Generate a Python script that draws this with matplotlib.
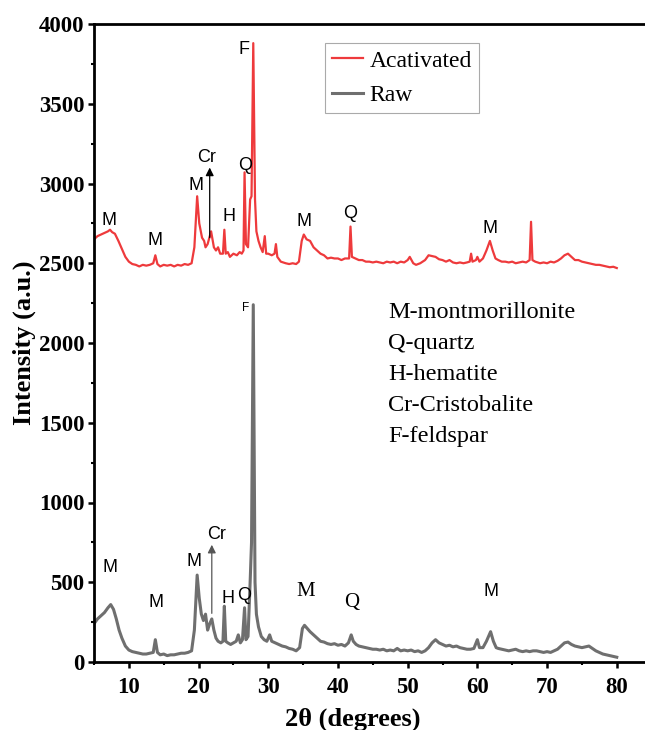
import matplotlib
matplotlib.use("Agg")
import matplotlib.pyplot as plt
from matplotlib.ticker import MultipleLocator

# ---------------- data ----------------
activated_2theta = [
    5.0, 5.5, 6.0, 6.5, 7.0, 7.3, 7.6, 8.0, 8.5, 9.0, 9.5, 10.0, 10.5, 11.0, 11.5, 12.0,
    12.5, 13.0, 13.5, 13.8, 14.1, 14.5, 15.0, 15.5, 16.0, 16.5, 17.0, 17.5, 18.0, 18.5,
    19.0, 19.4, 19.8, 20.1, 20.5, 20.8, 21.0, 21.3, 21.8, 22.2, 22.5, 22.8, 23.1, 23.5,
    23.7, 23.9, 24.2, 24.5, 25.0, 25.5, 25.9, 26.2, 26.45, 26.6, 26.8, 27.1, 27.4, 27.6,
    27.85, 28.1, 28.3, 28.6, 28.9, 29.2, 29.5, 29.7, 30.0, 30.5, 30.9, 31.1, 31.3, 31.8,
    32.5, 33.0, 33.5, 34.0, 34.4, 34.8, 35.1, 35.5, 36.0, 36.5, 37.0, 37.5, 38.0, 38.5,
    39.0, 39.5, 40.0, 40.5, 41.0, 41.6, 41.8, 42.0, 42.5, 43.0, 43.5, 44.0, 44.5, 45.0,
    45.5, 46.0, 46.5, 47.0, 47.5, 48.0, 48.5, 49.0, 49.5, 50.0, 50.3, 50.8, 51.2, 51.8,
    52.5, 53.0, 53.5, 54.0, 54.5, 55.0, 55.5, 56.0, 56.5, 57.0, 57.5, 58.0, 58.5, 58.9,
    59.1, 59.3, 59.8, 60.0, 60.3, 60.8, 61.3, 61.8, 62.2, 62.6, 63.0, 63.5, 64.0, 64.5,
    65.0, 65.5, 66.0, 66.5, 67.0, 67.5, 67.7, 67.9, 68.3, 69.0, 69.5, 70.0, 70.5, 71.0,
    71.5, 72.0, 72.5, 73.0, 73.5, 74.0, 74.5, 75.0, 75.5, 76.0, 76.5, 77.0, 77.5, 78.0,
    78.5, 79.0, 79.5, 80.0]
activated_intensity = [
    2650, 2670, 2680, 2690, 2700, 2710, 2695, 2685, 2640, 2590, 2540, 2510, 2495, 2490, 2480, 2490,
    2485, 2490, 2500, 2550, 2495, 2480, 2490, 2485, 2490, 2480, 2490, 2485, 2495, 2490,
    2500, 2600, 2920, 2750, 2660, 2640, 2600, 2620, 2700, 2600, 2580, 2600, 2560, 2560,
    2710, 2560, 2570, 2540, 2560, 2550, 2570, 2560, 2580, 3070, 2620, 2600, 2900, 2920,
    3880, 2900, 2700, 2640, 2600, 2570, 2670, 2560, 2560, 2550, 2560, 2620, 2540, 2510,
    2500, 2495, 2500, 2495, 2510, 2640, 2680, 2650, 2640, 2600, 2580, 2560, 2550, 2530,
    2535, 2530, 2530, 2520, 2530, 2530, 2730, 2540, 2530, 2520, 2520, 2510, 2510, 2505,
    2510, 2505, 2500, 2510, 2505, 2510, 2500, 2510, 2505, 2520, 2540, 2500, 2490, 2500,
    2520, 2550, 2545, 2540, 2525, 2520, 2510, 2520, 2505, 2500, 2505, 2500, 2505, 2510,
    2560, 2510, 2520, 2540, 2510, 2530, 2580, 2640, 2580, 2530, 2520, 2510, 2510, 2505,
    2510, 2500, 2505, 2510, 2505, 2520, 2760, 2520, 2510, 2500, 2505, 2500, 2510, 2505,
    2515, 2530, 2550, 2560, 2540, 2520, 2520, 2510, 2505, 2500, 2495, 2490, 2490, 2485,
    2480, 2475, 2478, 2470]

raw_2theta = [
    5.0, 5.5, 6.0, 6.5, 7.0, 7.4, 7.8, 8.2, 8.6, 9.0, 9.5, 10.0, 10.5, 11.0, 11.5, 12.0,
    12.5, 13.0, 13.5, 13.8, 14.1, 14.5, 15.0, 15.5, 16.0, 16.5, 17.0, 17.5, 18.0, 18.5,
    19.0, 19.4, 19.8, 20.1, 20.4, 20.7, 21.0, 21.3, 21.6, 21.9, 22.2, 22.5, 22.8, 23.2,
    23.5, 23.7, 23.9, 24.2, 24.6, 25.0, 25.4, 25.7, 26.0, 26.3, 26.6, 26.8, 27.1, 27.4,
    27.6, 27.85, 28.1, 28.3, 28.6, 29.0, 29.4, 29.8, 30.2, 30.5, 31.0, 31.5, 32.0, 32.5,
    33.0, 33.5, 34.0, 34.5, 34.9, 35.2, 35.6, 36.0, 36.5, 37.0, 37.5, 38.0, 38.5, 39.0,
    39.5, 40.0, 40.5, 41.0, 41.5, 41.9, 42.2, 42.6, 43.0, 43.5, 44.0, 44.5, 45.0, 45.5,
    46.0, 46.5, 47.0, 47.5, 48.0, 48.5, 49.0, 49.5, 50.0, 50.5, 51.0, 51.5, 52.0, 52.5,
    53.0, 53.5, 54.0, 54.5, 55.0, 55.5, 56.0, 56.5, 57.0, 57.5, 58.0, 58.5, 59.0, 59.5,
    60.0, 60.3, 60.8, 61.3, 61.9, 62.3, 62.7, 63.0, 63.5, 64.0, 64.5, 65.0, 65.5, 66.0,
    66.5, 67.0, 67.5, 68.0, 68.5, 69.0, 69.5, 70.0, 70.5, 71.0, 71.5, 72.0, 72.5, 73.0,
    73.5, 74.0, 74.5, 75.0, 75.5, 76.0, 76.5, 77.0, 77.5, 78.0, 78.5, 79.0, 79.5, 80.0]
raw_intensity = [
    240, 270, 290, 310, 340, 360, 330, 270, 200, 150, 100, 75, 65, 60, 55, 50,
    50, 55, 60, 140, 60, 45, 50, 40, 45, 45, 50, 55, 55, 60,
    70, 200, 545, 400, 300, 260, 300, 200, 240, 270, 200, 150, 130, 120,
    130, 350, 130, 120, 110, 120, 130, 170, 120, 140, 340, 140, 160, 500,
    750, 2240, 500, 300, 220, 160, 140, 130, 170, 130, 120, 110, 100, 95,
    85, 80, 70, 90, 210, 230, 210, 190, 170, 150, 130, 125, 115, 110,
    115, 105, 110, 100, 120, 170, 130, 110, 100, 95, 90, 85, 80, 80,
    75, 80, 70, 75, 70, 85, 70, 75, 70, 75, 65, 70, 60, 70,
    90, 120, 140, 120, 110, 100, 105, 95, 100, 90, 85, 80, 80, 85,
    140, 90, 90, 130, 190, 130, 90, 85, 80, 75, 70, 75, 80, 70,
    65, 70, 65, 70, 70, 65, 60, 65, 60, 70, 80, 100, 120, 125,
    110, 100, 95, 90, 95, 100, 85, 70, 60, 50, 45, 40, 35, 30]

series_labels = ["Acativated", "Raw"]
x_ticks = [10, 20, 30, 40, 50, 60, 70, 80]
y_ticks = [0, 500, 1000, 1500, 2000, 2500, 3000, 3500, 4000]

# peak labels (text, 2theta, intensity of label centre)
activated_peak_labels = ["M", "M", "M", "H", "Q", "F", "M", "Q", "M"]
activated_peak_x = [7.2, 13.75, 19.6, 24.4, 26.7, 26.5, 35.1, 41.7, 61.8]
activated_peak_y = [2765, 2645, 2990, 2795, 3115, 3837, 2760, 2815, 2715]
raw_peak_labels = ["M", "M", "M", "H", "Q", "M", "Q", "M"]
raw_peak_x = [7.3, 13.9, 19.3, 24.2, 26.5, 35.3, 42.0, 62.0]
raw_peak_y = [590, 376, 627, 401, 414, 440, 375, 439]
raw_peak_serif = [False, False, False, False, False, True, True, False]

legend_key = ["M-montmorillonite", "Q-quartz", "H-hematite", "Cr-Cristobalite", "F-feldspar"]

# ---------------- figure ----------------
RED = "#ee3a3c"
GREY = "#6f6f6f"
SERIF = ["Liberation Serif", "DejaVu Serif"]
SANS = ["Liberation Sans", "DejaVu Sans"]

fig = plt.figure(figsize=(6.45, 7.30), dpi=100)
ax = fig.add_axes([94 / 645, 68 / 730, 1 - 94 / 645, (662 - 24) / 730])

ax.plot(activated_2theta, activated_intensity, color=RED, lw=1.6, label=series_labels[0])
ax.plot(raw_2theta, raw_intensity, color=GREY, lw=2.2, label=series_labels[1])

ax.set_xlim(5, 84.05)
ax.set_ylim(0, 4000)
ax.set_xticks(x_ticks)
ax.set_yticks(y_ticks)
ax.xaxis.set_minor_locator(MultipleLocator(5))
ax.yaxis.set_minor_locator(MultipleLocator(250))

for s in ["left", "bottom", "top"]:
    ax.spines[s].set_linewidth(2.0)
ax.spines["right"].set_visible(False)
ax.tick_params(which="major", direction="out", length=4, width=1.8)
ax.tick_params(which="minor", direction="out", length=2.5, width=1.5)
ax.tick_params(axis="x", which="major", pad=7)
ax.tick_params(axis="y", which="major", pad=3)
for lab in ax.get_xticklabels() + ax.get_yticklabels():
    lab.set_family(SERIF)
    lab.set_fontweight("bold")
    lab.set_fontsize(16.5)

ax.set_xlabel("2θ (degrees)", family=SERIF, fontweight="bold", fontsize=19, labelpad=6)
ax.xaxis.set_label_coords(0.47, -0.072)
ax.set_ylabel("Intensity (a.u.)", family=SERIF, fontweight="bold", fontsize=19, labelpad=2)

# peak labels
for t, x, y in zip(activated_peak_labels, activated_peak_x, activated_peak_y):
    ax.text(x, y, t, family=SANS, fontsize=13, ha="center", va="center")
for t, x, y, sf in zip(raw_peak_labels, raw_peak_x, raw_peak_y, raw_peak_serif):
    ax.text(x, y, t, family=SERIF if sf else SANS, fontsize=15 if sf else 13,
            ha="center", va="center")
ax.text(26.7, 2219, "F", family=SANS, fontsize=8.5, ha="center", va="center")

# Cristobalite arrows
ax.annotate("", xy=(21.6, 3100), xytext=(21.6, 2660),
            arrowprops=dict(arrowstyle="-|>", color="black", lw=0.9, mutation_scale=12,
                            shrinkA=0, shrinkB=0))
ax.text(21.1, 3166, "Cr", family=SANS, fontsize=13, ha="center", va="center")
ax.annotate("", xy=(21.9, 735), xytext=(21.9, 305),
            arrowprops=dict(arrowstyle="-|>", color="#555555", lw=0.9, mutation_scale=12,
                            shrinkA=0, shrinkB=0))
ax.text(22.6, 800, "Cr", family=SANS, fontsize=13, ha="center", va="center")

# mineral key
for i, t in enumerate(legend_key):
    ax.text(47.2, 2190 - i * 194, t, family=SERIF, fontsize=17.5, ha="left", va="center")

leg = ax.legend(loc="upper left", bbox_to_anchor=(0.419, 0.970), prop={"family": SERIF, "size": 17},
                handlelength=1.3, handletextpad=0.3, borderpad=0.3, labelspacing=0.55,
                borderaxespad=0, frameon=True, fancybox=False, edgecolor="#aaaaaa", framealpha=1)
leg.get_frame().set_linewidth(0.8)

fig.savefig("out.png", dpi=100)
